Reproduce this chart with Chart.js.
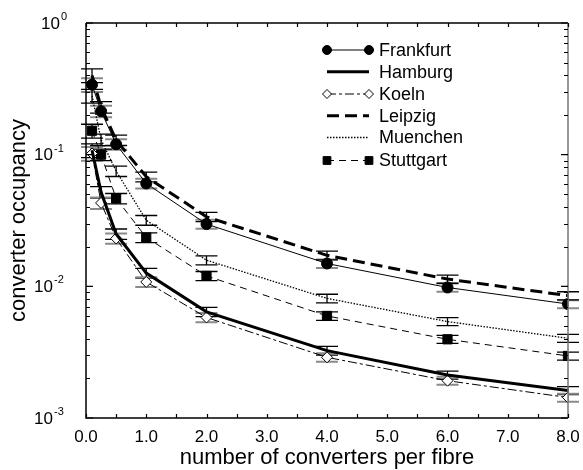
<!DOCTYPE html>
<html><head><meta charset="utf-8">
<script src="https://cdn.jsdelivr.net/npm/chart.js@4.4.0/dist/chart.umd.min.js"></script>
<style>html,body{margin:0;padding:0;background:#fff}canvas{display:block}</style>
</head><body>
<canvas id="c" width="583" height="470"></canvas>
<script>
// converters per fibre (x positions of the measurements)
const converters = [0.1, 0.25, 0.5, 1, 2, 4, 6, 8];
// converter occupancy per city
const frankfurt = [0.34, 0.214, 0.12, 0.0604, 0.0297, 0.0149, 0.0098, 0.00734];
const hamburg   = [0.108, 0.052, 0.025, 0.0126, 0.0064, 0.00325, 0.00212, 0.00162];
const koeln     = [0.102, 0.043, 0.0231, 0.0108, 0.0058, 0.00289, 0.00192, 0.00143];
const leipzig   = [0.40, 0.23, 0.129, 0.068, 0.0337, 0.0172, 0.01135, 0.0085];
const muenchen  = [0.28, 0.13, 0.075, 0.0318, 0.0158, 0.0081, 0.0054, 0.00403];
const stuttgart = [0.152, 0.10, 0.0465, 0.0235, 0.012, 0.00596, 0.00396, 0.00296];
// relative confidence interval half-width at each x
const relErr = [0.12, 0.1, 0.09, 0.085, 0.08, 0.075, 0.07, 0.07];
// axis ticks
const xTickLabels = ['0.0','1.0','2.0','3.0','4.0','5.0','6.0','7.0','8.0'];
const yDecades = [0, -1, -2, -3];

const FONT = "'Liberation Sans', Arial, Helvetica, sans-serif";
const pts = arr => converters.map((x, i) => ({x, y: arr[i]}));

const datasets = [
  {label:'Frankfurt', data:pts(frankfurt), borderColor:'#000', borderWidth:1, pointStyle:'circle',
   pointRadius:5.5, pointBackgroundColor:'#000', pointBorderColor:'#000', errColor:'#8a8a8a', errWidth:2},
  {label:'Hamburg', data:pts(hamburg), borderColor:'#000', borderWidth:3, pointRadius:0, errColor:'#000', errWidth:1.3},
  {label:'Koeln', data:pts(koeln), borderColor:'#000', borderWidth:1, borderDash:[9,3,3,3], pointStyle:'rectRot',
   pointRadius:5.5, pointBackgroundColor:'#fff', pointBorderColor:'#000', pointBorderWidth:1, errColor:'#8a8a8a', errWidth:2},
  {label:'Leipzig', data:pts(leipzig), borderColor:'#000', borderWidth:3, borderDash:[12,6], pointRadius:0, errColor:'#000', errWidth:1.3},
  {label:'Muenchen', data:pts(muenchen), borderColor:'#000', borderWidth:1.3, borderDash:[1.5,1.5], pointRadius:0, errColor:'#000', errWidth:1.3},
  {label:'Stuttgart', data:pts(stuttgart), borderColor:'#000', borderWidth:1, borderDash:[7,5], pointStyle:'rect',
   pointRadius:6.5, pointBackgroundColor:'#000', pointBorderColor:'#000', errColor:'#000', errWidth:1.3}
];
datasets.forEach(d => { d.tension = 0; d.fill = false; });

function marker(ctx, style, x, y, r, fill) {
  ctx.save();
  ctx.setLineDash([]);
  ctx.beginPath();
  if (style === 'circle') ctx.arc(x, y, r, 0, Math.PI * 2);
  else if (style === 'rect') { const s = r * Math.SQRT1_2; ctx.rect(x - s, y - s, 2 * s, 2 * s); }
  else if (style === 'rectRot') { ctx.moveTo(x - r, y); ctx.lineTo(x, y - r); ctx.lineTo(x + r, y); ctx.lineTo(x, y + r); ctx.closePath(); }
  ctx.fillStyle = fill; ctx.fill();
  ctx.lineWidth = 1; ctx.strokeStyle = '#000'; ctx.stroke();
  ctx.restore();
}

const errorBars = {
  id: 'errorBars',
  beforeDatasetsDraw(chart) {
    const {ctx, scales:{x, y}} = chart;
    ctx.save();
    chart.data.datasets.forEach(ds => {
      ctx.strokeStyle = ds.errColor; ctx.lineWidth = ds.errWidth;
      ds.data.forEach((p, i) => {
        const px = x.getPixelForValue(p.x);
        const hi = y.getPixelForValue(p.y * (1 + relErr[i]));
        const lo = y.getPixelForValue(p.y * (1 - relErr[i]));
        ctx.beginPath();
        ctx.moveTo(px, hi); ctx.lineTo(px, lo);
        ctx.moveTo(px - 11, hi); ctx.lineTo(px + 11, hi);
        ctx.moveTo(px - 11, lo); ctx.lineTo(px + 11, lo);
        ctx.stroke();
      });
    });
    ctx.restore();
  }
};

const frame = {
  id: 'frame',
  afterDraw(chart) {
    const {ctx, chartArea:a, scales:{x, y}} = chart;
    ctx.save();
    ctx.setLineDash([]);
    ctx.strokeStyle = '#000'; ctx.lineWidth = 1.5;
    ctx.beginPath();
    ctx.moveTo(a.left, a.top); ctx.lineTo(a.left, a.bottom); ctx.lineTo(a.right, a.bottom);
    ctx.moveTo(a.left, a.top); ctx.lineTo(a.right, a.top);
    ctx.stroke();
    ctx.strokeStyle = '#777';
    ctx.beginPath(); ctx.moveTo(a.right, a.top); ctx.lineTo(a.right, a.bottom); ctx.stroke();
    // x ticks every 0.5
    ctx.strokeStyle = '#000'; ctx.lineWidth = 1.2;
    ctx.beginPath();
    for (let v = 0; v <= 8.001; v += 0.5) {
      const px = Math.round(x.getPixelForValue(v)) + 0.5;
      ctx.moveTo(px, a.bottom); ctx.lineTo(px, a.bottom - 4);
      ctx.moveTo(px, a.top); ctx.lineTo(px, a.top + 4);
    }
    // y ticks (decades and minor)
    yDecades.forEach(d => {
      const py = y.getPixelForValue(Math.pow(10, d));
      ctx.moveTo(a.left, py); ctx.lineTo(a.left + 7, py);
      ctx.moveTo(a.right, py); ctx.lineTo(a.right - 7, py);
    });
    for (let d = -3; d < 0; d++) {
      for (let m = 2; m <= 9; m++) {
        const py = Math.round(y.getPixelForValue(m * Math.pow(10, d))) + 0.5;
        ctx.moveTo(a.left, py); ctx.lineTo(a.left + 4, py);
        ctx.moveTo(a.right, py); ctx.lineTo(a.right - 4, py);
      }
    }
    ctx.stroke();

    // tick labels
    ctx.fillStyle = '#000';
    ctx.font = '17px ' + FONT;
    ctx.textAlign = 'center'; ctx.textBaseline = 'middle';
    xTickLabels.forEach((t, i) => ctx.fillText(t, x.getPixelForValue(i), a.bottom + 19));
    yDecades.forEach(d => {
      const py = y.getPixelForValue(Math.pow(10, d));
      const right = d === 0 ? a.left - 26 : a.left - 33;
      ctx.font = '17px ' + FONT; ctx.textAlign = 'right'; ctx.textBaseline = 'middle';
      ctx.fillText('10', right, py + 1);
      ctx.font = '11px ' + FONT; ctx.textAlign = 'left';
      ctx.fillText(String(d), right + 1, py - 6);
    });

    // axis titles
    ctx.font = '22px ' + FONT; ctx.textAlign = 'center'; ctx.textBaseline = 'middle';
    ctx.fillText('number of converters per fibre', (a.left + a.right) / 2, 458);
    ctx.save();
    ctx.translate(19, (a.top + a.bottom) / 2);
    ctx.rotate(-Math.PI / 2);
    ctx.fillText('converter occupancy', 0, 0);
    ctx.restore();

    // legend
    const lx0 = 327, lx1 = 369, tx = 379;
    const rows = [50, 71.7, 94, 115.7, 137.5, 160.5];
    chart.data.datasets.forEach((ds, i) => {
      const ly = rows[i];
      ctx.save();
      ctx.strokeStyle = '#000'; ctx.lineWidth = ds.borderWidth;
      ctx.setLineDash(ds.borderDash || []);
      ctx.beginPath(); ctx.moveTo(lx0, ly); ctx.lineTo(lx1, ly); ctx.stroke();
      ctx.restore();
      if (ds.pointRadius > 0) {
        marker(ctx, ds.pointStyle, lx0, ly, ds.pointRadius - 1, ds.pointBackgroundColor);
        marker(ctx, ds.pointStyle, lx1, ly, ds.pointRadius - 1, ds.pointBackgroundColor);
      }
      ctx.font = '18px ' + FONT; ctx.textAlign = 'left'; ctx.textBaseline = 'middle';
      ctx.fillStyle = '#000';
      ctx.fillText(ds.label, tx, ly + 1);
    });
    ctx.restore();
  }
};

new Chart(document.getElementById('c'), {
  type: 'line',
  data: { datasets },
  options: {
    responsive: false,
    animation: false,
    devicePixelRatio: 1,
    layout: { padding: { top: 23, right: 15, left: 0, bottom: 0 } },
    plugins: { legend: { display: false }, tooltip: { enabled: false } },
    scales: {
      x: { type: 'linear', min: 0, max: 8, ticks: { display: false }, grid: { display: false },
           border: { display: false }, afterFit(s) { s.height = 52; } },
      y: { type: 'logarithmic', min: 0.001, max: 1, ticks: { display: false }, grid: { display: false },
           border: { display: false }, afterFit(s) { s.width = 86; } }
    }
  },
  plugins: [errorBars, frame]
});
</script>
</body></html>
